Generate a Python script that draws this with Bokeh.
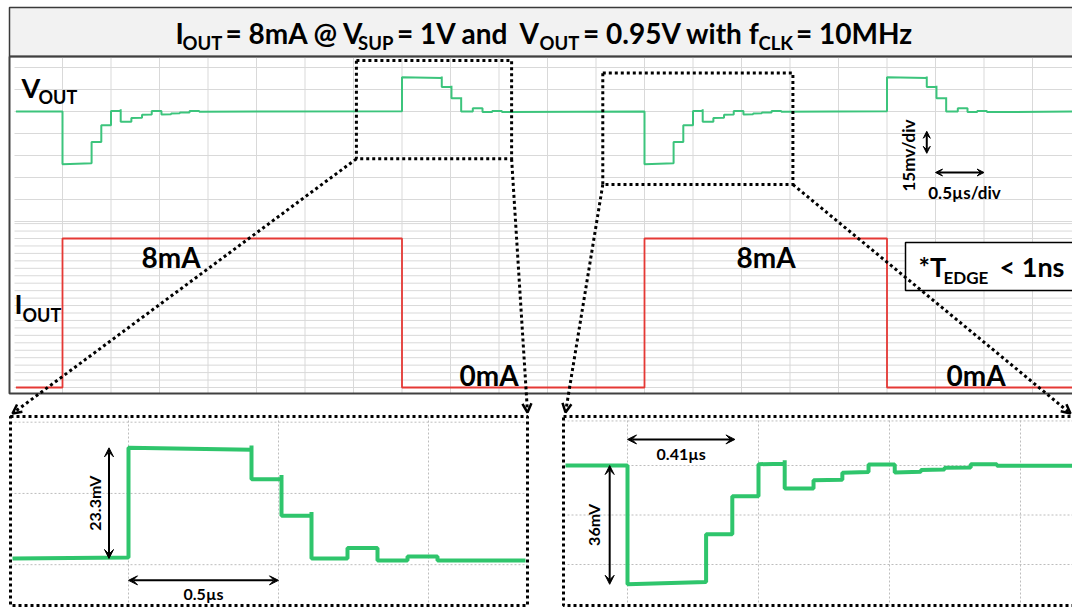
import math
from bokeh.plotting import figure
from bokeh.models import Range1d, Arrow, OpenHead, VeeHead
from bokeh.core.properties import value
from bokeh.embed import file_html
from bokeh.resources import INLINE

# ---------------------------------------------------------------------------
# Measured waveforms
# ---------------------------------------------------------------------------
# Load current: edge times (us) and the two current levels (mA)
LOAD_EDGES_US = [0.0, 3.5, 6.0, 8.5]
LOAD_LOW_MA = 0.0
LOAD_HIGH_MA = 8.0

# VOUT deviation from 0.95 V after a 0 -> 8 mA load step (us after edge, mV)
DROOP_T_US = [0.00, 0.00, 0.30, 0.30, 0.40, 0.40, 0.50, 0.50, 0.60, 0.60, 0.60,
              0.71, 0.71, 0.82, 0.82, 0.92, 0.92, 1.02, 1.02, 1.12, 1.12,
              1.21, 1.21, 1.31, 1.31, 1.41, 1.41]
DROOP_MV = [0.0, -36.0, -35.3, -20.8, -20.8, -9.3, -9.3, 0.4, 0.5, 1.6, -7.0,
            -7.0, -4.5, -4.3, -2.2, -2.0, 0.3, 0.3, -2.1, -1.9, -1.4,
            -1.2, -0.7, -0.6, 0.4, 0.4, -0.1]

# VOUT deviation after an 8 -> 0 mA load step
OVERSHOOT_T_US = [0.00, 0.00, 0.41, 0.41, 0.41, 0.51, 0.51, 0.51, 0.61, 0.61, 0.61,
                  0.73, 0.73, 0.83, 0.83, 0.93, 0.93, 1.03, 1.03]
OVERSHOOT_MV = [0.2, 23.3, 22.9, 23.8, 16.7, 16.7, 17.6, 9.0, 9.0, 9.8, 0.0,
                0.0, 2.2, 2.2, -0.4, -0.4, 0.4, 0.4, -0.4]

# Scope graticule
MAIN_T_TICKS = [0.0, 0.5, 1.0, 1.5, 2.0, 2.5, 3.0, 3.5, 4.0, 4.5, 5.0,
                5.5, 6.0, 6.5, 7.0, 7.5, 8.0, 8.5, 9.0, 9.5, 10.0]
MAIN_V_TICKS_MV = [30, 15, 0, -15, -30, -45, -60, -75]
MAIN_I_TICKS_MA = [0.0, 0.4, 0.8, 1.2, 1.6, 2.0, 2.4, 2.8, 3.2, 3.6, 4.0, 4.4,
                   4.8, 5.2, 5.6, 6.0, 6.4, 6.8, 7.2, 7.6, 8.0, 8.4, 8.8]

# Zoom windows on the main trace (us, mV)
ZOOM_OVER_T = [3.03, 4.63]
ZOOM_OVER_MV = [-32.3, 34.8]
ZOOM_DROOP_T = [5.57, 7.53]
ZOOM_DROOP_MV = [-49.8, 26.2]

# Inset graticules
INSET1_T_TICKS = [0.0, 0.5, 1.0]
INSET1_MV_TICKS = [-1.3, 13.7, 28.7]
INSET2_T_TICKS = [0.0, 0.5, 1.0, 1.5]
INSET2_MV_TICKS = [13.5, 0.0, -15.0, -30.0]

# Measurement markers
OVER_STEP_MV = 23.3
OVER_STEP_T = 0.5
DROOP_STEP_MV = 36.0
DROOP_STEP_T = 0.41

# ---------------------------------------------------------------------------
# Page layout (pixels)
# ---------------------------------------------------------------------------
W, H = 1072, 608
FONT = "Lato"
TITLE_BOX = (9, 7, 1090, 56)       # left, top, right, bottom
MAIN_BOX = (9, 56, 1090, 393)
INSET1_BOX = (10, 416, 527, 605)
INSET2_BOX = (563, 416, 1078, 605)

GREEN = "#2fc56c"
RED = "#e53935"
GRID = "#d9d9d9"
CAP_SHIFT = 0.36   # baseline -> vertical centre of a text line, in em


def x_range_from(px0, v0, px_per_unit):
    return Range1d(v0 - px0 / px_per_unit, v0 + (W - px0) / px_per_unit)


def y_range_from(py0, v0, px_per_unit):
    return Range1d(v0 - (H - py0) / px_per_unit, v0 + py0 / px_per_unit)


def page_x(rng, v):
    return (v - rng.start) / (rng.end - rng.start) * W


def page_y(rng, v):
    return H - (v - rng.start) / (rng.end - rng.start) * H


p = figure(width=W, height=H, x_range=Range1d(0, W), y_range=Range1d(H, 0),
           x_axis_type=None, y_axis_type=None, output_backend="svg",
           toolbar_location=None, min_border=0)
p.grid.visible = False
p.outline_line_color = None
p.background_fill_color = "white"
p.border_fill_color = "white"

p.extra_x_ranges = {
    "t": x_range_from(62, 0.0, 97.0),
    "t1": x_range_from(128, 0.0, 300.0),
    "t2": x_range_from(627, 0.0, 262.0),
}
p.extra_y_ranges = {
    "v": y_range_from(111, 0.0, 22.0 / 15.0),
    "i": y_range_from(387, 0.0, 149.0 / 8.0),
    "v1": y_range_from(558, 0.0, 4.75),
    "v2": y_range_from(465, 0.0, 3.3),
}
RT, RV = p.extra_x_ranges["t"], p.extra_y_ranges["v"]


def put_text(x, baseline, txt, size, **kw):
    """Page-pixel text placed by its baseline."""
    opts = dict(text_font=value(FONT), text_font_style="bold",
                text_font_size=f"{size}px", text_color="black",
                text_baseline="middle", text_align="left")
    opts.update(kw)
    p.text(x=[x], y=[baseline - CAP_SHIFT * size], text=[txt], **opts)


# ---------------------------------------------------------------------------
# Title bar
# ---------------------------------------------------------------------------
l, t, r, b = TITLE_BOX
p.quad(left=[l], right=[r], top=[t], bottom=[b], fill_color="#f2f2f2",
       line_color="#3a3a3a", line_width=1.5)
TITLE_PIECES = [("I", 175, 0), ("OUT", 182, 1), ("= 8mA @ V", 225, 0),
                ("SUP", 357.5, 1), ("= 1V and", 396.5, 0), ("V", 519, 0),
                ("OUT", 539, 1), ("= 0.95V with f", 582.5, 0), ("CLK", 758, 1),
                ("= 10MHz", 795.5, 0)]
for txt, x, sub in TITLE_PIECES:
    if sub:
        put_text(x, 49, txt, 18.5)
    else:
        put_text(x, 43, txt, 28)

# ---------------------------------------------------------------------------
# Main scope screen
# ---------------------------------------------------------------------------
ml, mt, mr, mb = MAIN_BOX
p.segment(x0=MAIN_T_TICKS, x1=MAIN_T_TICKS, y0=[mt] * len(MAIN_T_TICKS),
          y1=[mb] * len(MAIN_T_TICKS), x_range_name="t",
          line_color=GRID, line_width=1)
p.segment(x0=[ml + 5] * len(MAIN_V_TICKS_MV), x1=[mr] * len(MAIN_V_TICKS_MV),
          y0=MAIN_V_TICKS_MV, y1=MAIN_V_TICKS_MV, y_range_name="v",
          line_color=GRID, line_width=1)
p.segment(x0=[ml + 5] * len(MAIN_I_TICKS_MA), x1=[mr] * len(MAIN_I_TICKS_MA),
          y0=MAIN_I_TICKS_MA, y1=MAIN_I_TICKS_MA, y_range_name="i",
          line_color=GRID, line_width=1)
p.line(x=[ml, ml, mr], y=[mt, mb, mb], line_color="#404040", line_width=2)
p.line(x=[ml, mr], y=[mt, mt], line_color="#404040", line_width=2)

t_first, t_last = -0.48, 10.6

# load current trace
cur_t, cur_i = [t_first], [LOAD_LOW_MA]
level = LOAD_LOW_MA
for te in LOAD_EDGES_US:
    nxt = LOAD_HIGH_MA if level == LOAD_LOW_MA else LOAD_LOW_MA
    cur_t += [te, te]
    cur_i += [level, nxt]
    level = nxt
cur_t.append(t_last)
cur_i.append(level)
p.line(cur_t, cur_i, x_range_name="t", y_range_name="i", line_color=RED,
       line_width=1.8)

# output voltage trace
vt, vv = [t_first], [0.0]
for k, te in enumerate(LOAD_EDGES_US):
    st, sv = (DROOP_T_US, DROOP_MV) if k % 2 == 0 else (OVERSHOOT_T_US, OVERSHOOT_MV)
    vt += [te + s for s in st]
    vv += list(sv)
vt.append(t_last)
vv.append(0.0)
p.line(vt, vv, x_range_name="t", y_range_name="v", line_color="#3cc47c",
       line_width=2)

# channel labels
put_text(21, 97, "V", 27)
put_text(38, 103, "OUT", 18)
put_text(14, 313, "I", 27)
put_text(22, 321, "OUT", 18)
for x in (141, 736):
    put_text(x, 267, "8mA", 28)
for x in (459, 946):
    put_text(x, 385, "0mA", 28)

# scale markers
p.add_layout(Arrow(x_start=8.91, x_end=8.91, y_start=-13.5, y_end=-28.5,
                   x_range_name="t", y_range_name="v", line_width=2,
                   start=VeeHead(size=7, fill_color="black", line_color="black"),
                   end=VeeHead(size=7, fill_color="black", line_color="black")))
p.add_layout(Arrow(x_start=9.0, x_end=9.5, y_start=-41.6, y_end=-41.6,
                   x_range_name="t", y_range_name="v", line_width=2,
                   start=VeeHead(size=7, fill_color="black", line_color="black"),
                   end=VeeHead(size=7, fill_color="black", line_color="black")))
p.text(x=[908], y=[155], text=["15mv/div"], angle=math.pi / 2,
       text_align="center", text_baseline="middle", text_font=value(FONT),
       text_font_style="bold", text_font_size="17px")
put_text(964, 198, "0.5\u00b5s/div", 17, text_align="center")

# edge-time note
p.quad(left=[905], right=[1090], top=[242], bottom=[290], fill_color="white",
       line_color="black", line_width=1.5)
put_text(918, 276, "*T", 27)
put_text(943, 283, "EDGE", 17)
put_text(999, 276, "< 1ns", 27)

# zoom windows
for zt, zv in ((ZOOM_OVER_T, ZOOM_OVER_MV), (ZOOM_DROOP_T, ZOOM_DROOP_MV)):
    p.quad(left=[zt[0]], right=[zt[1]], bottom=[zv[0]], top=[zv[1]],
           x_range_name="t", y_range_name="v", fill_color=None,
           line_color="black", line_width=3, line_dash="3 3")

# ---------------------------------------------------------------------------
# Insets
# ---------------------------------------------------------------------------
INSETS = [
    (INSET1_BOX, "t1", "v1", INSET1_T_TICKS, INSET1_MV_TICKS,
     OVERSHOOT_T_US, OVERSHOOT_MV),
    (INSET2_BOX, "t2", "v2", INSET2_T_TICKS, INSET2_MV_TICKS,
     DROOP_T_US, DROOP_MV),
]
for box, xr, yr, tt, mt_ticks, st, sv in INSETS:
    bl, bt, br, bb = box
    p.segment(x0=tt, x1=tt, y0=[bt] * len(tt), y1=[bb] * len(tt),
              x_range_name=xr, line_color="#bdbdbd", line_width=1,
              line_dash="2 2")
    p.segment(x0=[bl] * len(mt_ticks), x1=[br] * len(mt_ticks), y0=mt_ticks,
              y1=mt_ticks, y_range_name=yr, line_color="#bdbdbd",
              line_width=1, line_dash="2 2")
    rx = p.extra_x_ranges[xr]
    t_in0 = rx.start + (bl + 2) / W * (rx.end - rx.start)
    t_in1 = rx.start + (br - 2) / W * (rx.end - rx.start)
    p.line([t_in0] + list(st) + [t_in1], [0.0] + list(sv) + [sv[-1]],
           x_range_name=xr, y_range_name=yr, line_color=GREEN,
           line_width=4)
    p.quad(left=[bl], right=[br], top=[bt], bottom=[bb], fill_color=None,
           line_color="black", line_width=3, line_dash="3 3")


def dbl_arrow(x0, y0, x1, y1, xr, yr):
    p.add_layout(Arrow(x_start=x0, y_start=y0, x_end=x1, y_end=y1,
                       x_range_name=xr, y_range_name=yr, line_width=2,
                       start=VeeHead(size=9, fill_color="black", line_color="black"),
                       end=VeeHead(size=9, fill_color="black", line_color="black")))


def data_text(x, y, txt, xr, yr, **kw):
    opts = dict(text_align="center", text_baseline="middle",
                text_font=value(FONT), text_font_style="bold",
                text_font_size="16px", text_color="black")
    opts.update(kw)
    p.text(x=[x], y=[y], text=[txt], x_range_name=xr, y_range_name=yr, **opts)


# overshoot inset markers
dbl_arrow(-0.065, 0.0, -0.065, OVER_STEP_MV, "t1", "v1")
dbl_arrow(0.0, -4.6, OVER_STEP_T, -4.6, "t1", "v1")
data_text(-0.065, OVER_STEP_MV / 2, f"{OVER_STEP_MV}mV", "t1", "v1",
          x_offset=-15, angle=math.pi / 2)
data_text(OVER_STEP_T / 2, -4.6, f"{OVER_STEP_T}\u00b5s", "t1", "v1",
          y_offset=13)

# droop inset markers
dbl_arrow(-0.068, 0.0, -0.068, -DROOP_STEP_MV, "t2", "v2")
dbl_arrow(0.0, 7.9, DROOP_STEP_T, 7.9, "t2", "v2")
data_text(-0.068, -DROOP_STEP_MV / 2, f"{DROOP_STEP_MV:.0f}mV", "t2", "v2",
          x_offset=-16, angle=math.pi / 2)
data_text(DROOP_STEP_T / 2, 7.9, f"{DROOP_STEP_T}\u00b5s", "t2", "v2",
          y_offset=14)

# ---------------------------------------------------------------------------
# Connectors from the zoom windows to the insets
# ---------------------------------------------------------------------------
CONNECTORS = [
    ((ZOOM_OVER_T[0], ZOOM_OVER_MV[0]), (INSET1_BOX[0] + 2, INSET1_BOX[1] - 3)),
    ((ZOOM_OVER_T[1], ZOOM_OVER_MV[0]), (INSET1_BOX[2], INSET1_BOX[1] - 4)),
    ((ZOOM_DROOP_T[0], ZOOM_DROOP_MV[0]), (INSET2_BOX[0] + 2, INSET2_BOX[1] - 4)),
    ((ZOOM_DROOP_T[1], ZOOM_DROOP_MV[0]), (W - 2, INSET2_BOX[1] - 3)),
]
for (ct, cv), (ex, ey) in CONNECTORS:
    p.add_layout(Arrow(x_start=page_x(RT, ct), y_start=page_y(RV, cv),
                       x_end=ex, y_end=ey, line_width=3, line_dash="3 3",
                       line_color="black",
                       end=OpenHead(size=9, line_width=2.5, line_color="black")))

open("out.html", "w").write(file_html(p, INLINE))
